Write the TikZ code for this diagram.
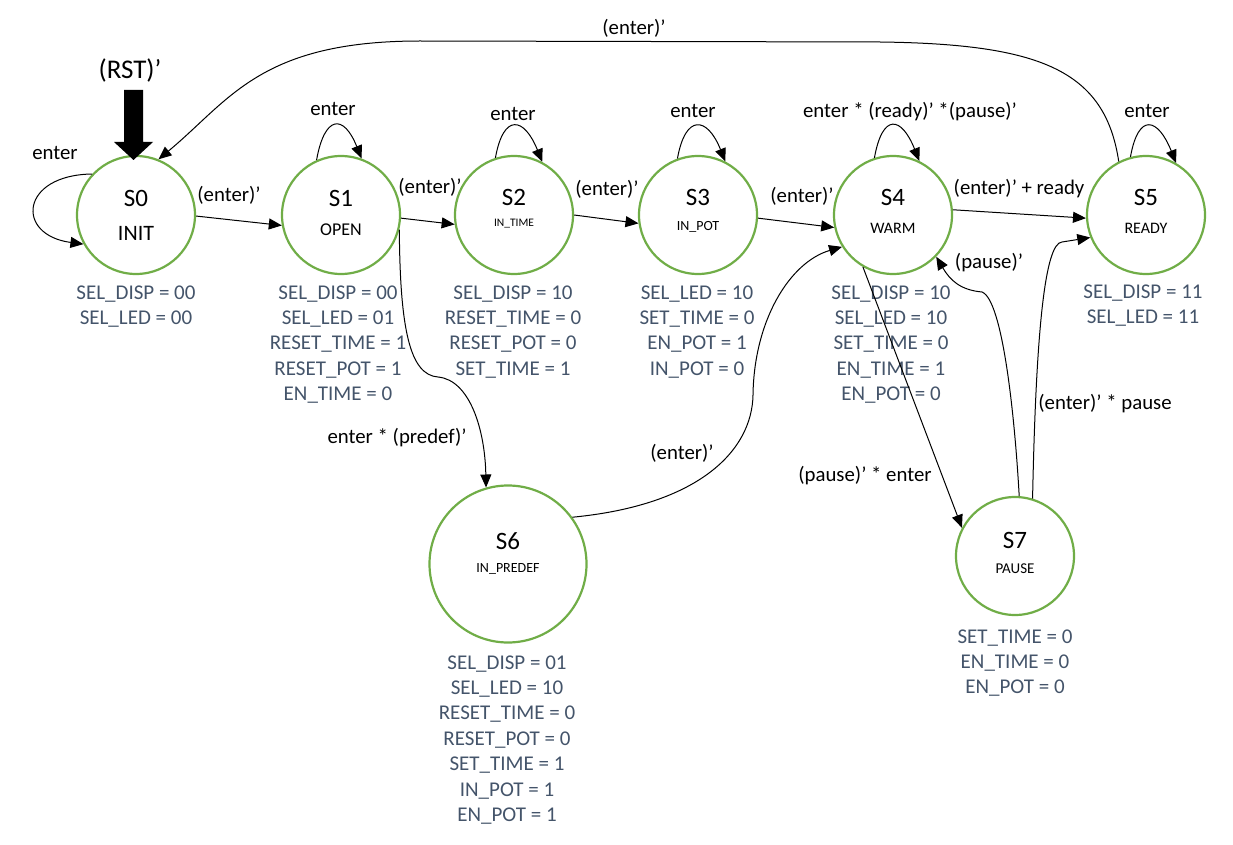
\documentclass[tikz,border=0pt]{standalone}
\usepackage{fontspec}
\setmainfont{Carlito}
\usetikzlibrary{arrows.meta}
\definecolor{stgreen}{HTML}{70AD47}
\definecolor{outcol}{HTML}{44546A}
\begin{document}
\begin{tikzpicture}[x=1pt,y=-1pt,
  state/.style={circle,draw=stgreen,line width=2.2pt,minimum size=118pt,inner sep=0pt},
  bigstate/.style={state,minimum size=157pt},
  sname/.style={font=\fontsize{25}{29}\selectfont,inner sep=0pt},
  ssub/.style={inner sep=0pt},
  outs/.style={align=center,text=outcol,font=\fontsize{21}{25.4}\selectfont,anchor=base,inner sep=0pt},
  lab/.style={font=\fontsize{20.8}{24}\selectfont,inner sep=0pt},
  conn/.style={draw=black,line width=1pt,-{Triangle[length=13pt,width=11pt]}}
]
\useasboundingbox (0,0) rectangle (1233,845);

% states
\node[state] (s0) at (136,215) {};
\node[state] (s1) at (341,215) {};
\node[state] (s2) at (514,215) {};
\node[state] (s3) at (698,215) {};
\node[state] (s4) at (893,215) {};
\node[state] (s5) at (1146,215) {};
\node[bigstate] (s6) at (508,564) {};
\node[state] (s7) at (1015,556) {};

% state texts
\node[sname] (t0) at (136,198) {S0};
\node[ssub,font=\fontsize{22}{26}\selectfont] (u0) at (136,233) {INIT};
\node[sname] (t1) at (341,198) {S1};
\node[ssub,font=\fontsize{18}{22}\selectfont] (u1) at (341,230) {OPEN};
\node[sname] (t2) at (514,197) {S2};
\node[ssub,font=\fontsize{11.5}{14}\selectfont] (u2) at (514,224) {IN\_TIME};
\node[sname] (t3) at (698,197) {S3};
\node[ssub,font=\fontsize{14}{17}\selectfont] (u3) at (698,227) {IN\_POT};
\node[sname] (t4) at (893,197) {S4};
\node[ssub,font=\fontsize{16}{19}\selectfont] (u4) at (893,228) {WARM};
\node[sname] (t5) at (1146,197) {S5};
\node[ssub,font=\fontsize{16}{19}\selectfont] (u5) at (1146,228) {READY};
\node[sname] (t6) at (508,541) {S6};
\node[ssub,font=\fontsize{14}{17}\selectfont] (u6) at (508,569) {IN\_PREDEF};
\node[sname] (t7) at (1015,540) {S7};
\node[ssub,font=\fontsize{15}{18}\selectfont] (u7) at (1015,569) {PAUSE};

% outputs (anchor base = baseline of last line)
\node[outs] (o0) at (136,324.4) {SEL\_DISP = 00\\SEL\_LED = 00};
\node[outs] (o1) at (338,400.6) {SEL\_DISP = 00\\SEL\_LED = 01\\RESET\_TIME = 1\\RESET\_POT = 1\\EN\_TIME = 0};
\node[outs] (o2) at (513,375.2) {SEL\_DISP = 10\\RESET\_TIME = 0\\RESET\_POT = 0\\SET\_TIME = 1};
\node[outs] (o3) at (697,375.2) {SEL\_LED = 10\\SET\_TIME = 0\\EN\_POT = 1\\IN\_POT = 0};
\node[outs] (o4) at (891,400.6) {SEL\_DISP = 10\\SEL\_LED = 10\\SET\_TIME = 0\\EN\_TIME = 1\\EN\_POT = 0};
\node[outs] (o5) at (1143,323.4) {SEL\_DISP = 11\\SEL\_LED = 11};
\node[outs] (o6) at (507,821.4) {SEL\_DISP = 01\\SEL\_LED = 10\\RESET\_TIME = 0\\RESET\_POT = 0\\SET\_TIME = 1\\IN\_POT = 1\\EN\_POT = 1};
\node[outs] (o7) at (1015,693.8) {SET\_TIME = 0\\EN\_TIME = 0\\EN\_POT = 0};

% reset arrow
\node[font=\fontsize{27}{32}\selectfont,inner sep=0pt] (rst) at (130,70) {(RST)’};
\fill[black] (124,90) -- (143,90) -- (143,142) -- (153,142) -- (133.5,160) -- (114,142) -- (124,142) -- cycle;

% labels
\node[lab] (l01) at (229,195) {(enter)’};
\node[lab] (l00) at (55,153) {enter};
\node[lab] (l11) at (333,109) {enter};
\node[lab] (l12) at (430,187) {(enter)’};
\node[lab] (l22) at (513,114) {enter};
\node[lab] (l23) at (607,189) {(enter)’};
\node[lab] (l33) at (693,111) {enter};
\node[lab] (l34) at (802,196) {(enter)’};
\node[lab] (l44) at (910,112) {enter * (ready)’ *(pause)’};
\node[lab] (l45) at (1019,189) {(enter)’ + ready};
\node[lab] (l55) at (1147,111) {enter};
\node[lab] (l50) at (634,28) {(enter)’};
\node[lab] (l74) at (989,263) {(pause)’};
\node[lab] (l75) at (1105,404) {(enter)’ * pause};
\node[lab] (l47) at (865,476) {(pause)’ * enter};
\node[lab] (l16) at (397,438) {enter * (predef)’};
\node[lab] (l64) at (682,453) {(enter)’};

% connectors
\draw[conn] (s0.137) .. controls (20,175) and (15,235) .. (s0.209);
\draw[conn] (s0.-1) -- (s1.190);
\draw[conn] (s1.114) .. controls +(8,-45) and +(-18,-45) .. (s1.70);
\draw[conn] (s1.-3) -- (s2.189);
\draw[conn] (s1.-14) .. controls (400,330) and (410,375) .. (438,377) .. controls (470,380) and (485,430) .. (s6.106);
\draw[conn] (s2.108) .. controls +(8,-45) and +(-18,-45) .. (s2.62);
\draw[conn] (s2.0) -- (s3.188);
\draw[conn] (s3.110) .. controls +(8,-45) and +(-18,-45) .. (s3.63);
\draw[conn] (s3.-3) -- (s4.192);
\draw[conn] (s6.36) .. controls (700,505) and (752,450) .. (753,395) .. controls (754,320) and (790,262) .. (s4.212);
\draw[conn] (s4.108) .. controls +(8,-45) and +(-18,-45) .. (s4.64);
\draw[conn] (s4.5) -- (s5.183);
\draw[conn] (s4.240) -- (s7.152);
\draw[conn] (s7.86) .. controls (1015,420) and (1003,300) .. (982,292) .. controls (960,290) and (950,280) .. (s4.316);
\draw[conn] (s7.73) .. controls (1036,330) and (1045,243) .. (1062,242) -- (s5.202);
\draw[conn] (s5.105) .. controls +(8,-45) and +(-18,-45) .. (s5.60);
\draw[conn] (s5.117) .. controls (1105,70) and (1040,44) .. (880,42) -- (420,41) .. controls (260,41) and (230,100) .. (s0.68);
\end{tikzpicture}
\end{document}
